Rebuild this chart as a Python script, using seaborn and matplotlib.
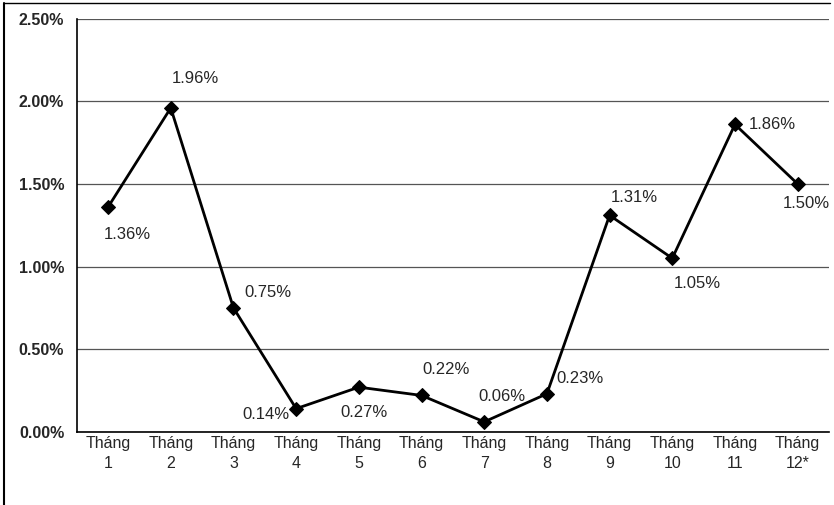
import numpy as np
import pandas as pd
import matplotlib
matplotlib.use('Agg')
import matplotlib.pyplot as plt
import seaborn as sns
from matplotlib.lines import Line2D
from matplotlib.ticker import FuncFormatter

# data
months = ['Tháng\n1', 'Tháng\n2', 'Tháng\n3', 'Tháng\n4', 'Tháng\n5', 'Tháng\n6',
          'Tháng\n7', 'Tháng\n8', 'Tháng\n9', 'Tháng\n10', 'Tháng\n11', 'Tháng\n12*']
rates = [1.36, 1.96, 0.75, 0.14, 0.27, 0.22, 0.06, 0.23, 1.31, 1.05, 1.86, 1.50]
y_ticks = [0.0, 0.5, 1.0, 1.5, 2.0, 2.5]

df = pd.DataFrame({'month': months, 'rate': rates})
df['pos'] = np.arange(len(months))

sns.set_style('white')
plt.rcParams['font.family'] = ['Liberation Sans', 'DejaVu Sans']

fig = plt.figure(figsize=(8.34, 5.05), dpi=100)
ax = fig.add_axes([0.092, 0.145, 0.902, 0.818])

for yv in y_ticks:
    ax.axhline(yv, color='#555555', lw=0.9, zorder=0)

sns.lineplot(data=df, x='pos', y='rate', ax=ax, color='black', lw=2,
             marker='D', markersize=7.5, markeredgecolor='black', zorder=3)

# label offsets in points (dx, dy), placement only
offsets = [(14, -20), (18, 21), (25, 11), (-22, -4), (4, -18), (18, 19),
           (13, 18), (24, 11), (18, 13), (18, -18), (27, 0), (6, -14)]
for i, (v, off) in enumerate(zip(rates, offsets)):
    ax.annotate(f'{v:.2f}%', (i, v), xytext=off, textcoords='offset points',
                ha='center', va='center', fontsize=12, annotation_clip=False)

ax.set_xlim(-0.5, 11.5)
ax.set_ylim(0, 2.5)
ax.set_yticks(y_ticks)
ax.yaxis.set_major_formatter(FuncFormatter(lambda v, p: f'{v:.2f}%'))
ax.set_xticks(np.arange(len(months)))
ax.set_xticklabels(months, fontsize=11.5, linespacing=1.45)
ax.set_xticks(np.arange(-0.5, 12, 1), minor=True)
ax.tick_params(axis='x', which='major', length=0, pad=3)
ax.tick_params(axis='x', which='minor', length=4, color='black', direction='out')
ax.tick_params(axis='y', length=5, color='black', direction='out', labelsize=11.5, pad=4)
for lbl in ax.get_yticklabels():
    lbl.set_fontweight('bold')
ax.set_xlabel('')
ax.set_ylabel('')

for side in ['top', 'right']:
    ax.spines[side].set_visible(False)
for side in ['left', 'bottom']:
    ax.spines[side].set_color('black')
    ax.spines[side].set_linewidth(1.2)

# outer chart border (left and top visible in the scan)
fig.add_artist(Line2D([0.005, 0.005], [0.0, 0.995], color='black', lw=1.5))
fig.add_artist(Line2D([0.005, 0.995], [0.995, 0.995], color='black', lw=1.0))

fig.savefig('out.png', dpi=100)
